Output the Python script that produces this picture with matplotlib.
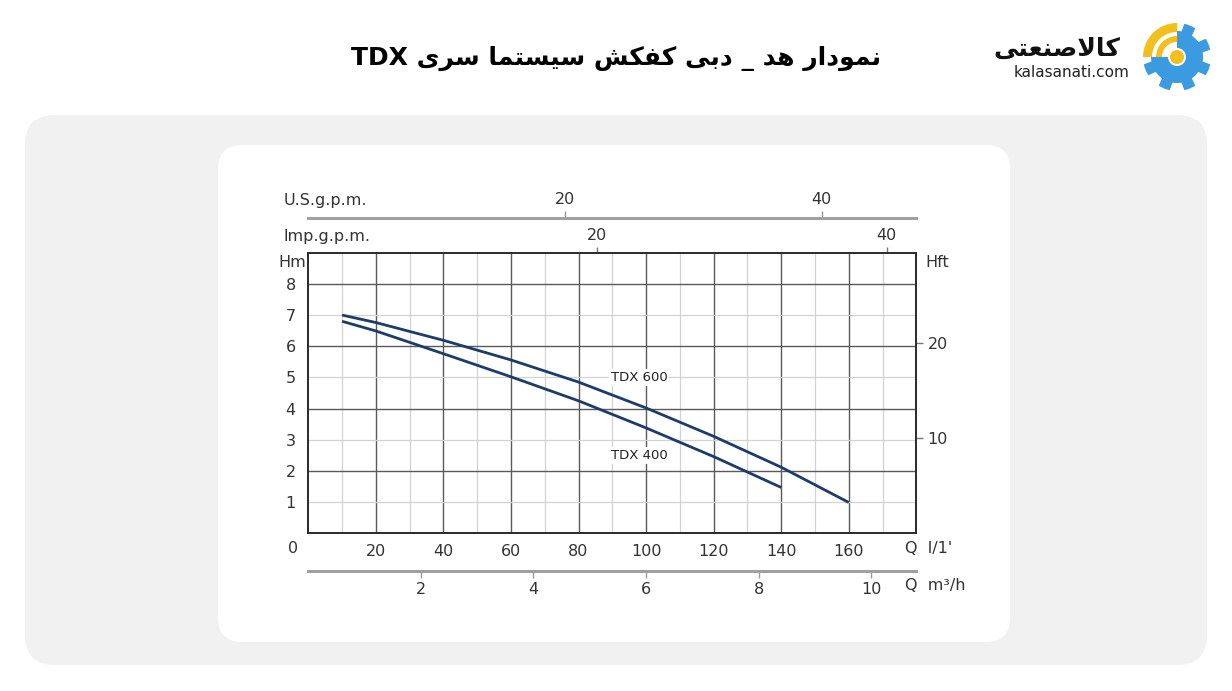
import numpy as np
import matplotlib
matplotlib.use('Agg')
import matplotlib.pyplot as plt
from matplotlib.patches import FancyBboxPatch, Polygon, Wedge, Circle

# --- داده‌ها (خوانده شده از نمودار) ---
q_600 = [10, 20, 40, 60, 80, 100, 120, 140, 160]          # l/min
h_600 = [7.0, 6.76, 6.19, 5.56, 4.85, 4.02, 3.11, 2.12, 0.99]  # m
q_400 = [10, 20, 40, 60, 80, 100, 120, 140]
h_400 = [6.8, 6.49, 5.76, 5.02, 4.25, 3.38, 2.46, 1.47]

x_major = [20, 40, 60, 80, 100, 120, 140, 160]
x_minor = [10, 30, 50, 70, 90, 110, 130, 150, 170]
y_major = [2, 4, 6, 8]
y_minor = [1, 3, 5, 7]
ft_ticks = [10, 20]
us_ticks = [20, 40]
imp_ticks = [20, 40]
m3h_ticks = [2, 4, 6, 8, 10]

title_fa = 'نمودار هد _ دبی کفکش سیستما سری TDX'
logo_fa = 'کالاصنعتی'
logo_en = 'kalasanati.com'

# ضریب‌های تبدیل محورها
US_GAL = 3.8      # l/min per U.S.g.p.m. (همانطور که در تصویر است)
IMP_GAL = 4.28    # l/min per Imp.g.p.m. (همانطور که در تصویر است)
M3H = 1000 / 60   # l/min per m3/h
FT = 0.3048

# --- شکل‌دهی ساده حروف فارسی ---
AR_FORMS = {
    'ا': ('\ufe8d', '\ufe8e', None, None),
    'ب': ('\ufe8f', '\ufe90', '\ufe91', '\ufe92'),
    'ت': ('\ufe95', '\ufe96', '\ufe97', '\ufe98'),
    'د': ('\ufea9', '\ufeaa', None, None),
    'ر': ('\ufead', '\ufeae', None, None),
    'س': ('\ufeb1', '\ufeb2', '\ufeb3', '\ufeb4'),
    'ش': ('\ufeb5', '\ufeb6', '\ufeb7', '\ufeb8'),
    'ص': ('\ufeb9', '\ufeba', '\ufebb', '\ufebc'),
    'ع': ('\ufec9', '\ufeca', '\ufecb', '\ufecc'),
    'ف': ('\ufed1', '\ufed2', '\ufed3', '\ufed4'),
    'ل': ('\ufedd', '\ufede', '\ufedf', '\ufee0'),
    'م': ('\ufee1', '\ufee2', '\ufee3', '\ufee4'),
    'ن': ('\ufee5', '\ufee6', '\ufee7', '\ufee8'),
    'ه': ('\ufee9', '\ufeea', '\ufeeb', '\ufeec'),
    'و': ('\ufeed', '\ufeee', None, None),
    'ک': ('\ufb8e', '\ufb8f', '\ufb90', '\ufb91'),
    'ی': ('\ufbfc', '\ufbfd', '\ufbfe', '\ufbff'),
}
LAM_ALEF = ('\ufefb', '\ufefc')


def shape(text):
    out = []
    n = len(text)
    i = 0
    while i < n:
        c = text[i]
        if c not in AR_FORMS:
            out.append(c)
            i += 1
            continue
        prev = text[i - 1] if i > 0 else ''
        join_prev = prev in AR_FORMS and AR_FORMS[prev][2] is not None
        if c == 'ل' and i + 1 < n and text[i + 1] == 'ا':
            out.append(LAM_ALEF[1] if join_prev else LAM_ALEF[0])
            i += 2
            continue
        nxt = text[i + 1] if i + 1 < n else ''
        forms = AR_FORMS[c]
        join_next = forms[2] is not None and nxt in AR_FORMS
        if join_prev and join_next:
            out.append(forms[3])
        elif join_prev:
            out.append(forms[1])
        elif join_next:
            out.append(forms[2])
        else:
            out.append(forms[0])
        i += 1
    return ''.join(out)


def rtl(text):
    words = shape(text).split(' ')
    vis = [w[::-1] if any('\ufb50' <= ch <= '\ufeff' for ch in w) else w for w in words]
    return ' '.join(vis[::-1])


COND = ['Liberation Sans Narrow', 'DejaVu Sans']
TXT = '#333333'

fig = plt.figure(figsize=(12.32, 6.91), dpi=100)
fig.patch.set_facecolor('white')

# لایه پس‌زمینه با مختصات پیکسلی
bg = fig.add_axes([0, 0, 1, 1])
bg.set_xlim(0, 1232)
bg.set_ylim(691, 0)
bg.axis('off')
bg.add_patch(FancyBboxPatch((25 + 30, 115 + 30), 1182 - 60, 550 - 60,
                            boxstyle='round,pad=30', fc='#f1f1f1', ec='none'))
bg.add_patch(FancyBboxPatch((218 + 24, 145 + 24), 792 - 48, 497 - 48,
                            boxstyle='round,pad=24', fc='white', ec='none'))

# عنوان
bg.text(616, 58, rtl(title_fa), ha='center', va='center', fontsize=18,
        fontweight='bold', color='black', family=['DejaVu Sans'])

# لوگو
bg.text(1057, 49, rtl(logo_fa), ha='center', va='center', fontsize=18,
        fontweight='bold', color='#111111', family=['DejaVu Sans'])
bg.text(1072, 72, logo_en, ha='center', va='center', fontsize=11,
        color='#222222', family=['DejaVu Sans'])
cx, cy = 1177, 57
t = np.linspace(0, 2 * np.pi, 721)
r = 26 + 8 * np.clip((np.cos(8 * (t + np.pi / 8)) + 0.15) * 3, 0, 1)
bg.add_patch(Polygon(np.column_stack([cx + r * np.cos(t), cy + r * np.sin(t)]),
                     closed=True, fc='#3b9be0', ec='none'))
bg.add_patch(Wedge((cx, cy), 37, 180, 270, fc='white', ec='none'))
bg.add_patch(Wedge((cx, cy), 34, 180, 270, width=9, fc='#f2c01e', ec='none'))
bg.add_patch(Wedge((cx, cy), 21, 180, 270, width=6, fc='#f2c01e', ec='none'))
bg.add_patch(Circle((cx, cy), 9, fc='white', ec='none'))
bg.add_patch(Circle((cx, cy), 7, fc='#f2c01e', ec='none'))

# --- نمودار اصلی ---
ax = fig.add_axes([308.3 / 1232, 1 - 533.3 / 691, 608 / 1232, 280.6 / 691])
ax.set_xlim(0, 180)
ax.set_ylim(0, 9)

ax.set_xticks(x_major)
ax.set_xticks(x_minor, minor=True)
ax.set_yticks(y_major)
ax.set_yticks(y_minor, minor=True)
ax.set_yticklabels([str(v) for v in y_major])
ax.set_yticklabels([str(v) for v in y_minor], minor=True)
ax.set_xticklabels([str(v) for v in x_major])
ax.grid(which='major', color='#5a5a5a', lw=1.0)
ax.grid(which='minor', color='#d2d2d2', lw=0.9)
ax.set_axisbelow(True)
ax.tick_params(which='both', length=0, labelsize=11.5, labelcolor=TXT)
ax.tick_params(axis='x', which='both', pad=8)
ax.tick_params(axis='y', which='both', pad=9)
for lab in ax.get_xticklabels() + ax.get_yticklabels() + ax.get_yticklabels(minor=True):
    lab.set_family(COND)
for sp in ax.spines.values():
    sp.set_color('#2a2a2a')
    sp.set_linewidth(1.4)

ax.plot(q_600, h_600, color='#1d3c6a', lw=2.0, solid_capstyle='butt', zorder=3)
ax.plot(q_400, h_400, color='#1d3c6a', lw=2.0, solid_capstyle='butt', zorder=3)
box = dict(fc='white', ec='none', pad=1.5)
ax.text(89.5, 5.0, 'TDX 600', fontsize=9.5, color='#222222', va='center', ha='left',
        bbox=box, zorder=4)
ax.text(89.5, 2.5, 'TDX 400', fontsize=9.5, color='#222222', va='center', ha='left',
        bbox=box, zorder=4)

lab_kw = dict(fontsize=11.5, color=TXT, family=COND, xycoords='axes fraction',
              textcoords='offset pixels', va='center')
ax.annotate('0', (0, 0), xytext=(-15, -15), ha='center', **lab_kw)
ax.annotate('Hm', (0, 1), xytext=(-16, -10), ha='center', **lab_kw)
ax.annotate('Hft', (1, 1), xytext=(9, -10), ha='left', **lab_kw)
ax.annotate("Q  l/1'", (1, 0), xytext=(-11, -15), ha='left', **lab_kw)
ax.annotate('Q  m³/h', (1, 0), xytext=(-11, -52), ha='left', **lab_kw)
ax.annotate('lmp.g.p.m.', (0, 1), xytext=(-25, 16), ha='left', **lab_kw)
ax.annotate('U.S.g.p.m.', (0, 1), xytext=(-25, 52), ha='left', **lab_kw)

# محور فوت در سمت راست
sec_ft = ax.secondary_yaxis('right', functions=(lambda m: m / FT, lambda f: f * FT))
sec_ft.set_yticks(ft_ticks)
sec_ft.tick_params(length=5, width=1, color='#777777', labelsize=11.5, labelcolor=TXT, pad=3)
sec_ft.spines['right'].set_visible(False)

# Imp.g.p.m. روی لبه بالا
sec_imp = ax.secondary_xaxis('top', functions=(lambda q: q / IMP_GAL, lambda g: g * IMP_GAL))
sec_imp.set_xticks(imp_ticks)
sec_imp.tick_params(length=4, width=1, color='#777777', labelsize=11.5, labelcolor=TXT, pad=3)
sec_imp.spines['top'].set_visible(False)

# U.S.g.p.m. بالاتر
sec_us = ax.secondary_xaxis(1 + 35 / 280.6, functions=(lambda q: q / US_GAL, lambda g: g * US_GAL))
sec_us.set_xticks(us_ticks)
sec_us.tick_params(length=5, width=1, color='#999999', labelsize=11.5, labelcolor=TXT, pad=3)
sec_us.spines['top'].set_color('#a0a0a0')
sec_us.spines['top'].set_linewidth(2.2)

# m3/h پایین
sec_m3 = ax.secondary_xaxis(-(571 - 533.3) / 280.6, functions=(lambda q: q / M3H, lambda v: v * M3H))
sec_m3.set_xticks(m3h_ticks)
sec_m3.tick_params(length=5, width=1, color='#999999', labelsize=11.5, labelcolor=TXT, pad=3)
sec_m3.spines['bottom'].set_color('#a0a0a0')
sec_m3.spines['bottom'].set_linewidth(2.2)

for s in (sec_ft, sec_imp, sec_us, sec_m3):
    for lab in s.get_xticklabels() + s.get_yticklabels():
        lab.set_family(COND)

fig.savefig('out.png', dpi=100)
